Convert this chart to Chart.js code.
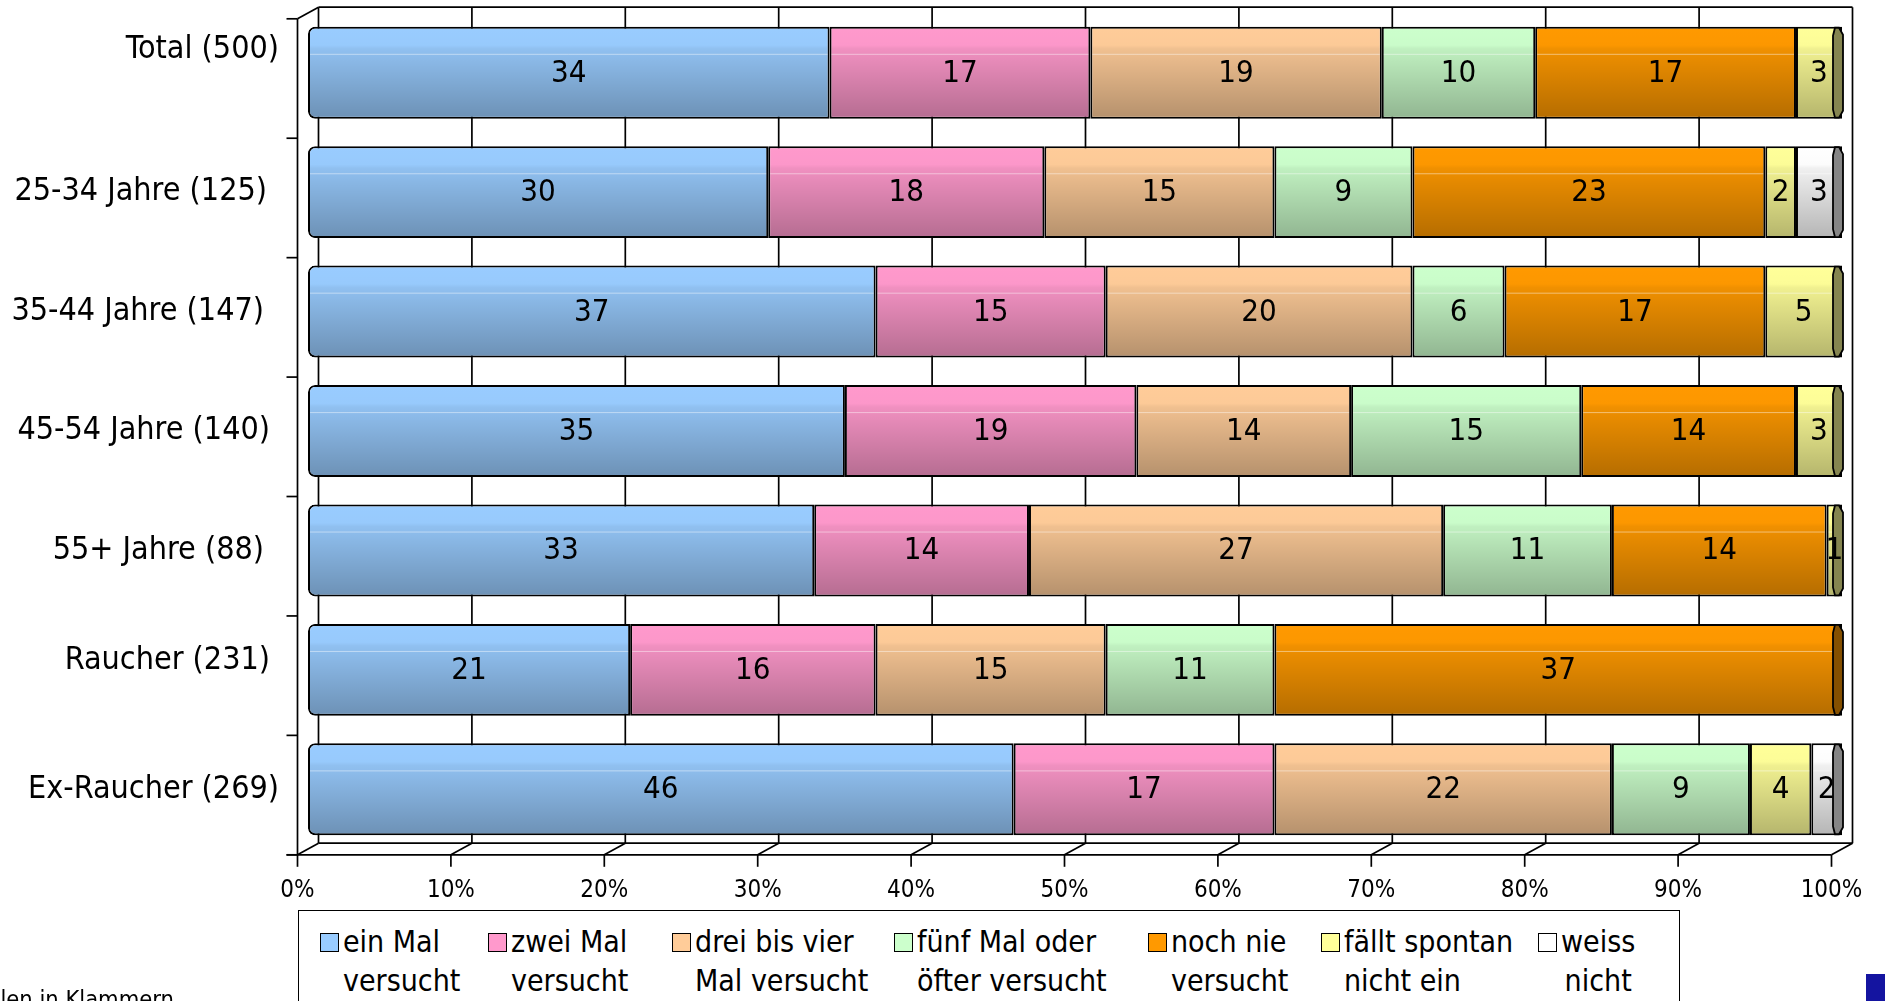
<!DOCTYPE html>
<html>
<head>
<meta charset="utf-8">
<script src="https://cdn.jsdelivr.net/npm/chart.js@4.4.1/dist/chart.umd.min.js"></script>
<style>
  html, body { margin: 0; padding: 0; background: #fff; overflow: hidden; }
  #wrap { position: relative; width: 1885px; height: 1001px; overflow: hidden; }
  #chart { position: absolute; left: 0; top: 0; }
  .f { font-family: 'DejaVu Sans Condensed', 'Liberation Sans', sans-serif; color: #000; }
  #legend { position: absolute; left: 298px; top: 910px; width: 1382px; height: 130px;
            border: 1.5px solid #000; box-sizing: border-box; background: #fff; }
  .item { position: absolute; top: 0; }
  .sw { position: absolute; left: 0; top: 22px; width: 19px; height: 19px;
        border: 1.5px solid #000; box-sizing: border-box; }
  .txt { position: absolute; left: 23px; top: 11px; font-size: 30px; line-height: 39px; white-space: nowrap; }
  #note { position: absolute; right: 1711px; top: 985px; font-size: 23.5px; white-space: nowrap; }
  #mark { position: absolute; left: 1866px; top: 974px; width: 19px; height: 27px; background: #1414a0; }
</style>
</head>
<body>
<div id="wrap">
  <canvas id="chart" width="1885" height="1001"></canvas>
  <div id="legend" class="f"></div>
  <div id="note" class="f">Fallzahlen in Klammern</div>
  <div id="mark"></div>
</div>
<script>
// Daten
const categories = ['Total (500)', '25-34 Jahre (125)', '35-44 Jahre (147)', '45-54 Jahre (140)',
                    '55+ Jahre (88)', 'Raucher (231)', 'Ex-Raucher (269)'];
const seriesLabels = [['ein Mal', 'versucht'], ['zwei Mal', 'versucht'], ['drei bis vier', 'Mal versucht'],
                      ['fünf Mal oder', 'öfter versucht'], ['noch nie', 'versucht'],
                      ['fällt spontan', 'nicht ein'], ['weiss', 'nicht']];
const einMal      = [34, 30, 37, 35, 33, 21, 46];
const zweiMal     = [17, 18, 15, 19, 14, 16, 17];
const dreiBisVier = [19, 15, 20, 14, 27, 15, 22];
const fuenfMal    = [10,  9,  6, 15, 11, 11,  9];
const nochNie     = [17, 23, 17, 14, 14, 37,  0];
const spontan     = [ 3,  2,  5,  3,  1,  0,  4];
const weissNicht  = [ 0,  3,  0,  0,  0,  0,  2];
const xTicks = [0, 10, 20, 30, 40, 50, 60, 70, 80, 90, 100];

// Layout / Stil
const seriesColors = ['#99CCFF', '#FF99CC', '#FFCC99', '#CCFFCC', '#FF9900', '#FFFF99', '#FFFFFF'];
const labelNudgeY = [-23, 0, 0, 0, 0, -9, 0];   // Excel setzt ein paar Beschriftungen versetzt
const labelNudgeX = [7, -5, -8, -2, -8, -2, 7];
const legendLeft = [321, 489, 673, 895, 1149, 1322, 1539];
const FONT = "'DejaVu Sans Condensed', 'Liberation Sans', sans-serif";
const DX = 10.5, DY = 5.8;   // halbe 3D-Tiefe

const values = [einMal, zweiMal, dreiBisVier, fuenfMal, nochNie, spontan, weissNicht];

function shade(hex, f) {
  const n = parseInt(hex.slice(1), 16);
  const r = Math.round(((n >> 16) & 255) * f), g = Math.round(((n >> 8) & 255) * f), b = Math.round((n & 255) * f);
  return `rgb(${r},${g},${b})`;
}

function line(ctx, x1, y1, x2, y2) {
  ctx.beginPath(); ctx.moveTo(x1, y1); ctx.lineTo(x2, y2); ctx.stroke();
}

const frame3d = {
  id: 'frame3d',
  beforeDatasetsDraw(chart) {
    const { ctx, chartArea: a, scales: { x, y } } = chart;
    ctx.save();
    ctx.strokeStyle = '#000';
    ctx.lineWidth = 1.7;
    const bTop = a.top - DY, bBot = a.bottom - DY;
    const fTop = a.top + DY, fBot = a.bottom + DY;
    // Rueckwand mit Gitterlinien
    xTicks.forEach(v => {
      const px = x.getPixelForValue(v);
      line(ctx, px + DX, bTop, px + DX, bBot);
      // Boden-Diagonalen und Striche
      line(ctx, px - DX, fBot, px + DX, bBot);
      line(ctx, px - DX, fBot, px - DX, fBot + 12);
    });
    line(ctx, x.getPixelForValue(0) + DX, bTop, x.getPixelForValue(100) + DX, bTop);
    line(ctx, x.getPixelForValue(0) + DX, bBot, x.getPixelForValue(100) + DX, bBot);
    line(ctx, x.getPixelForValue(0) - DX - 11, fBot, x.getPixelForValue(100) - DX, fBot);
    // Y-Achse vorne
    const ax = x.getPixelForValue(0) - DX;
    line(ctx, ax, fTop, ax, fBot);
    line(ctx, ax, fTop, ax + 2 * DX, bTop);
    const step = a.height / categories.length;
    for (let i = 0; i <= categories.length; i++) {
      const yy = a.top + i * step + DY;
      line(ctx, ax - 11, yy, ax, yy);
    }
    // Achsenbeschriftungen
    ctx.fillStyle = '#000';
    ctx.font = '24px ' + FONT;
    ctx.textAlign = 'center';
    ctx.textBaseline = 'middle';
    xTicks.forEach(v => ctx.fillText(v + '%', x.getPixelForValue(v) - DX, 891));
    ctx.font = '32px ' + FONT;
    ctx.textAlign = 'right';
    categories.forEach((c, i) => ctx.fillText(c, 272 + labelNudgeX[i], y.getPixelForValue(i) + labelNudgeY[i]));
    ctx.restore();
  },
  afterDatasetsDraw(chart) {
    const { ctx } = chart;
    ctx.save();
    const lastBar = [];
    chart.data.datasets.forEach((ds, di) => {
      chart.getDatasetMeta(di).data.forEach((bar, i) => {
        if (!ds.data[i]) return;
        const p = bar.getProps(['x', 'y', 'base', 'height'], true);
        const left = Math.min(p.x, p.base), right = Math.max(p.x, p.base);
        const top = p.y - p.height / 2, bottom = p.y + p.height / 2;
        const g = ctx.createLinearGradient(0, top, 0, bottom);
        g.addColorStop(0, 'rgba(0,0,0,0)');
        g.addColorStop(0.2, 'rgba(0,0,0,0.01)');
        g.addColorStop(0.24, 'rgba(0,0,0,0.06)');
        g.addColorStop(1, 'rgba(0,0,0,0.29)');
        ctx.fillStyle = g;
        ctx.fillRect(left + 2, top + 2, right - left - 4, bottom - top - 4);
        ctx.strokeStyle = 'rgba(255,255,255,0.45)';
        ctx.lineWidth = 1;
        line(ctx, left + 2, top + p.height * 0.3, right - 2, top + p.height * 0.3);
        lastBar[i] = { p, top, bottom, color: seriesColors[di] };
      });
    });
    // Zylinder-Enden rechts
    ctx.strokeStyle = '#000';
    ctx.lineWidth = 1.8;
    lastBar.forEach(b => {
      const xr = b.p.x, t = b.top, bt = b.bottom;
      ctx.fillStyle = shade(b.color, 0.52);
      ctx.beginPath();
      ctx.moveTo(xr - 7, t + 1);
      ctx.lineTo(xr - 3, t + 1);
      ctx.lineTo(xr + 1, t + 8);
      ctx.lineTo(xr + 1, bt - 8);
      ctx.lineTo(xr - 3, bt - 1);
      ctx.lineTo(xr - 7, bt - 1);
      ctx.lineTo(xr - 9, bt - 9);
      ctx.lineTo(xr - 9, t + 9);
      ctx.closePath();
      ctx.fill();
      ctx.stroke();
    });
    // Werte
    ctx.fillStyle = '#000';
    ctx.font = '31px ' + FONT;
    ctx.textAlign = 'center';
    ctx.textBaseline = 'middle';
    chart.data.datasets.forEach((ds, di) => {
      chart.getDatasetMeta(di).data.forEach((bar, i) => {
        if (!ds.data[i]) return;
        const p = bar.getProps(['x', 'y', 'base'], true);
        ctx.fillText(String(ds.data[i]), (p.x + p.base) / 2, p.y + 1);
      });
    });
    ctx.restore();
  }
};

new Chart(document.getElementById('chart'), {
  type: 'bar',
  data: {
    labels: categories,
    datasets: values.map((d, i) => ({
      label: seriesLabels[i].join(' '),
      data: d,
      backgroundColor: seriesColors[i],
      borderColor: '#000',
      borderWidth: 2,
      borderSkipped: false,
      borderRadius: i === 0 ? { topLeft: 7, bottomLeft: 7, topRight: 0, bottomRight: 0 } : 0,
      barPercentage: 0.77,
      categoryPercentage: 1
    }))
  },
  options: {
    indexAxis: 'y',
    responsive: false,
    animation: false,
    layout: { padding: { left: 308, right: 43, top: 13, bottom: 152 } },
    scales: {
      x: { type: 'linear', min: 0, max: 100, stacked: true, display: false },
      y: { type: 'category', stacked: true, display: false }
    },
    plugins: { legend: { display: false }, tooltip: { enabled: false } }
  },
  plugins: [frame3d]
});

// Legende
const legend = document.getElementById('legend');
seriesLabels.forEach((lines, i) => {
  const item = document.createElement('div');
  item.className = 'item';
  item.style.left = (legendLeft[i] - 300) + 'px';
  const align = i === seriesLabels.length - 1 ? 'center' : 'left';
  item.innerHTML = '<span class="sw" style="background:' + seriesColors[i] + '"></span>' +
                   '<span class="txt" style="text-align:' + align + '">' + lines.join('<br>') + '</span>';
  legend.appendChild(item);
});
</script>
</body>
</html>
